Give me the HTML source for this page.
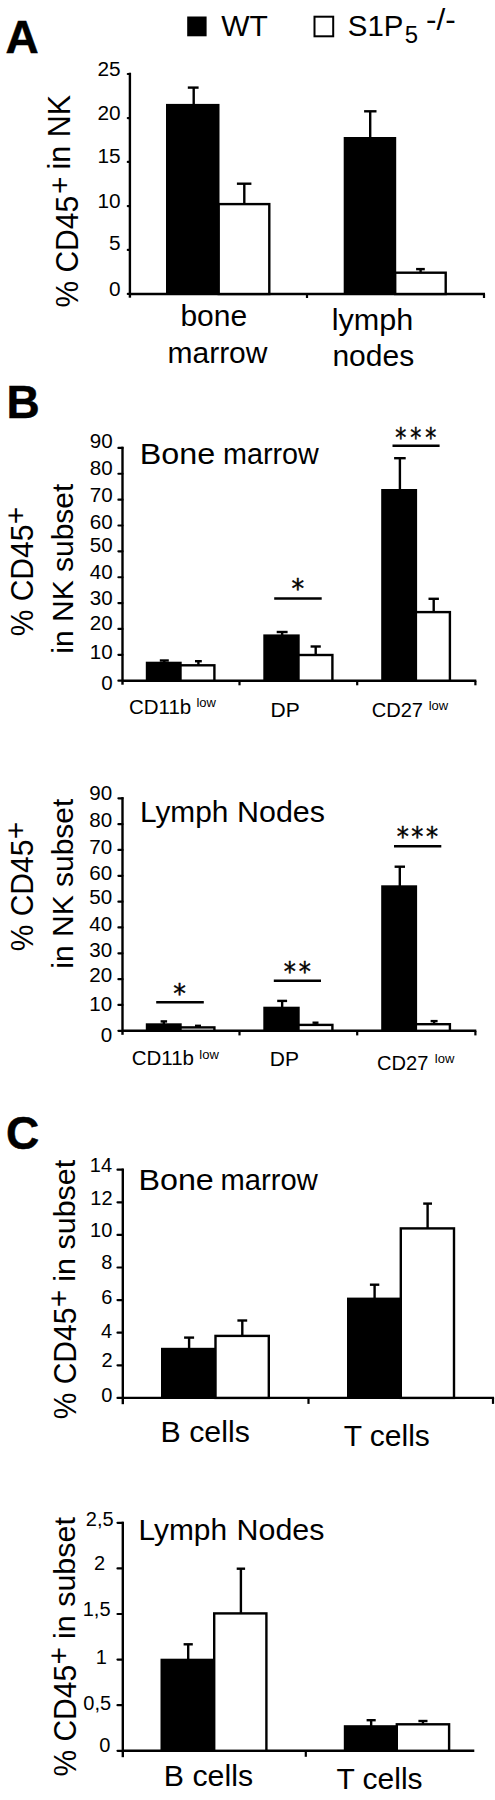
<!DOCTYPE html>
<html lang="en"><head><meta charset="utf-8"><title>Figure</title>
<style>
html,body{margin:0;padding:0;background:#fff;}
body{width:495px;height:1800px;overflow:hidden;font-family:"Liberation Sans",Arial,sans-serif;}
svg{display:block;}
</style></head><body>
<svg width="495" height="1800" viewBox="0 0 495 1800" font-family="Liberation Sans, Arial, sans-serif" fill="#000">
<rect width="495" height="1800" fill="#fff"/>
<text transform="translate(5.55 52.5)" font-size="46" font-weight="bold" stroke="#000" stroke-width="0.5" >A</text>
<text transform="translate(6.52 417.7)" font-size="46" font-weight="bold" stroke="#000" stroke-width="0.5" >B</text>
<text transform="translate(6.11 1148.8)" font-size="46" font-weight="bold" stroke="#000" stroke-width="0.5" >C</text>
<rect x="187.2" y="16.5" width="19.4" height="19.8" fill="#000"/>
<text transform="translate(221.27 36.2)" font-size="30" >WT</text>
<rect x="314.5" y="16.7" width="18.7" height="19.6" fill="#fff" stroke="#000" stroke-width="2"/>
<text transform="translate(347.86 36.4) scale(0.98 1)" font-size="30" >S1P</text>
<text transform="translate(404.84 43.3) scale(1.04 1)" font-size="23" >5</text>
<text transform="translate(426.1 30.2) scale(1.05 1)" font-size="30" >-/-</text>
<line x1="129.9" y1="72.7" x2="129.9" y2="297.7" stroke="#000" stroke-width="2.4"/>
<line x1="127.8" y1="74" x2="129.9" y2="74" stroke="#000" stroke-width="2.2" stroke-linecap="round"/>
<line x1="127.8" y1="118.1" x2="129.9" y2="118.1" stroke="#000" stroke-width="2.2" stroke-linecap="round"/>
<line x1="127.8" y1="161.9" x2="129.9" y2="161.9" stroke="#000" stroke-width="2.2" stroke-linecap="round"/>
<line x1="127.8" y1="206.1" x2="129.9" y2="206.1" stroke="#000" stroke-width="2.2" stroke-linecap="round"/>
<line x1="127.8" y1="249.9" x2="129.9" y2="249.9" stroke="#000" stroke-width="2.2" stroke-linecap="round"/>
<line x1="127.8" y1="293.9" x2="129.9" y2="293.9" stroke="#000" stroke-width="2.2" stroke-linecap="round"/>
<line x1="129.9" y1="294" x2="485" y2="294" stroke="#000" stroke-width="2.4"/>
<line x1="307" y1="294" x2="307" y2="298" stroke="#000" stroke-width="2.2"/>
<line x1="484" y1="294" x2="484" y2="298" stroke="#000" stroke-width="2.2"/>
<text transform="translate(97.54 76.25) scale(1.04 1)" font-size="20" >25</text>
<text transform="translate(97.48 120.25) scale(1.04 1)" font-size="20" >20</text>
<text transform="translate(97.54 163.15) scale(1.04 1)" font-size="20" >15</text>
<text transform="translate(97.48 207.65) scale(1.04 1)" font-size="20" >10</text>
<text transform="translate(109.11 249.95) scale(1.04 1)" font-size="20" >5</text>
<text transform="translate(109.04 296.25) scale(1.04 1)" font-size="20" >0</text>
<rect x="166" y="103.9" width="53.5" height="190.1" fill="#000"/>
<line x1="193.7" y1="87.6" x2="193.7" y2="105" stroke="#000" stroke-width="2.4"/>
<line x1="187.8" y1="87.6" x2="198.6" y2="87.6" stroke="#000" stroke-width="2.4"/>
<rect x="218.7" y="204.1" width="50.6" height="89.9" fill="#fff" stroke="#000" stroke-width="2.4"/>
<line x1="244.3" y1="183.7" x2="244.3" y2="204" stroke="#000" stroke-width="2.4"/>
<line x1="236.9" y1="183.7" x2="251.4" y2="183.7" stroke="#000" stroke-width="2.4"/>
<rect x="343.7" y="137" width="52.5" height="157" fill="#000"/>
<line x1="370.2" y1="111.3" x2="370.2" y2="138" stroke="#000" stroke-width="2.4"/>
<line x1="364.1" y1="111.3" x2="376.5" y2="111.3" stroke="#000" stroke-width="2.4"/>
<rect x="395.2" y="272.7" width="50.5" height="21.3" fill="#fff" stroke="#000" stroke-width="2.4"/>
<line x1="420.6" y1="269.1" x2="420.6" y2="272.5" stroke="#000" stroke-width="2.4"/>
<line x1="416.1" y1="269.1" x2="424.8" y2="269.1" stroke="#000" stroke-width="2.4"/>
<text transform="translate(77.6 307.57) rotate(-90) scale(1.0 1.07)" font-size="30">% CD45</text>
<text transform="translate(70.28 194.05) rotate(-90)" font-size="30">+</text>
<text transform="translate(70.2 169.44) rotate(-90) scale(1.015 1.07)" font-size="30">in NK</text>
<text transform="translate(180.43 326)" font-size="30" >bone</text>
<text transform="translate(167.46 362.5)" font-size="30" >marrow</text>
<text transform="translate(331.64 330) scale(1.019 1)" font-size="30" >lymph</text>
<text transform="translate(332.41 365.5)" font-size="30" >nodes</text>
<line x1="122.5" y1="446.7" x2="122.5" y2="684.7" stroke="#000" stroke-width="2.4"/>
<line x1="118.4" y1="680.7" x2="122.5" y2="680.7" stroke="#000" stroke-width="2.2" stroke-linecap="round"/>
<line x1="118.4" y1="654.83" x2="122.5" y2="654.83" stroke="#000" stroke-width="2.2" stroke-linecap="round"/>
<line x1="118.4" y1="628.97" x2="122.5" y2="628.97" stroke="#000" stroke-width="2.2" stroke-linecap="round"/>
<line x1="118.4" y1="603.1" x2="122.5" y2="603.1" stroke="#000" stroke-width="2.2" stroke-linecap="round"/>
<line x1="118.4" y1="577.23" x2="122.5" y2="577.23" stroke="#000" stroke-width="2.2" stroke-linecap="round"/>
<line x1="118.4" y1="551.37" x2="122.5" y2="551.37" stroke="#000" stroke-width="2.2" stroke-linecap="round"/>
<line x1="118.4" y1="525.5" x2="122.5" y2="525.5" stroke="#000" stroke-width="2.2" stroke-linecap="round"/>
<line x1="118.4" y1="499.63" x2="122.5" y2="499.63" stroke="#000" stroke-width="2.2" stroke-linecap="round"/>
<line x1="118.4" y1="473.77" x2="122.5" y2="473.77" stroke="#000" stroke-width="2.2" stroke-linecap="round"/>
<line x1="118.4" y1="447.9" x2="122.5" y2="447.9" stroke="#000" stroke-width="2.2" stroke-linecap="round"/>
<line x1="122.5" y1="680.7" x2="476.3" y2="680.7" stroke="#000" stroke-width="2.4"/>
<line x1="239.5" y1="680.7" x2="239.5" y2="685.3" stroke="#000" stroke-width="2.2"/>
<line x1="357.2" y1="680.7" x2="357.2" y2="685.3" stroke="#000" stroke-width="2.2"/>
<line x1="475.4" y1="680.7" x2="475.4" y2="685.3" stroke="#000" stroke-width="2.2"/>
<text transform="translate(89.69 448.25) scale(1.03 1)" font-size="20" >90</text>
<text transform="translate(89.69 475.05) scale(1.03 1)" font-size="20" >80</text>
<text transform="translate(89.69 501.85) scale(1.03 1)" font-size="20" >70</text>
<text transform="translate(89.69 528.55) scale(1.03 1)" font-size="20" >60</text>
<text transform="translate(89.69 552.35) scale(1.03 1)" font-size="20" >50</text>
<text transform="translate(89.69 578.75) scale(1.03 1)" font-size="20" >40</text>
<text transform="translate(89.69 605.05) scale(1.03 1)" font-size="20" >30</text>
<text transform="translate(89.69 630.35) scale(1.03 1)" font-size="20" >20</text>
<text transform="translate(89.69 659.05) scale(1.03 1)" font-size="20" >10</text>
<text transform="translate(101.15 689.85) scale(1.03 1)" font-size="20" >0</text>
<rect x="145.8" y="661.7" width="35.9" height="19" fill="#000"/>
<line x1="164.3" y1="660.5" x2="164.3" y2="662.7" stroke="#000" stroke-width="2.4"/>
<line x1="159.8" y1="660.5" x2="168.8" y2="660.5" stroke="#000" stroke-width="2.4"/>
<rect x="180.5" y="665.3" width="33.9" height="15.4" fill="#fff" stroke="#000" stroke-width="2.4"/>
<line x1="198.4" y1="661.2" x2="198.4" y2="665.1" stroke="#000" stroke-width="2.4"/>
<line x1="195" y1="661.2" x2="201.8" y2="661.2" stroke="#000" stroke-width="2.4"/>
<rect x="263.3" y="634.4" width="36.4" height="46.3" fill="#000"/>
<line x1="282.15" y1="632" x2="282.15" y2="635.4" stroke="#000" stroke-width="2.4"/>
<line x1="276.7" y1="632" x2="287.6" y2="632" stroke="#000" stroke-width="2.4"/>
<rect x="298.5" y="655" width="33.9" height="25.7" fill="#fff" stroke="#000" stroke-width="2.4"/>
<line x1="315.7" y1="646.5" x2="315.7" y2="654.8" stroke="#000" stroke-width="2.4"/>
<line x1="310.6" y1="646.5" x2="320.8" y2="646.5" stroke="#000" stroke-width="2.4"/>
<rect x="381.2" y="489" width="35.9" height="191.7" fill="#000"/>
<line x1="399.9" y1="458.2" x2="399.9" y2="490" stroke="#000" stroke-width="2.4"/>
<line x1="394.1" y1="458.2" x2="405.7" y2="458.2" stroke="#000" stroke-width="2.4"/>
<rect x="415.9" y="612.1" width="34" height="68.6" fill="#fff" stroke="#000" stroke-width="2.4"/>
<line x1="433.7" y1="598.8" x2="433.7" y2="611.9" stroke="#000" stroke-width="2.4"/>
<line x1="428.5" y1="598.8" x2="438.9" y2="598.8" stroke="#000" stroke-width="2.4"/>
<line x1="274.2" y1="598.5" x2="321.7" y2="598.5" stroke="#000" stroke-width="2.4"/>
<text transform="translate(297.8 598.3) scale(0.97 1)" font-size="26" text-anchor="middle" stroke="#000" stroke-width="0.45" font-family="DejaVu Sans, sans-serif">*</text>
<line x1="392.5" y1="445.8" x2="439.6" y2="445.8" stroke="#000" stroke-width="2.4"/>
<text transform="translate(400.85 446.5) scale(0.85 1)" font-size="26" text-anchor="middle" stroke="#000" stroke-width="0.45" font-family="DejaVu Sans, sans-serif">*</text>
<text transform="translate(415.8 446.5) scale(0.85 1)" font-size="26" text-anchor="middle" stroke="#000" stroke-width="0.45" font-family="DejaVu Sans, sans-serif">*</text>
<text transform="translate(430.75 446.5) scale(0.85 1)" font-size="26" text-anchor="middle" stroke="#000" stroke-width="0.45" font-family="DejaVu Sans, sans-serif">*</text>
<text transform="translate(139.75 463.9) scale(1.0774 1)" font-size="30" >Bone</text>
<text transform="translate(222.99 463.9) scale(0.9583 1)" font-size="30" >marrow</text>
<text transform="translate(33 636.27) rotate(-90) scale(1.0 1.07)" font-size="30">% CD45</text>
<text transform="translate(26.38 524.25) rotate(-90)" font-size="30">+</text>
<text transform="translate(72.7 653.71) rotate(-90)" font-size="30">in NK subset</text>
<text transform="translate(128.96 713.9)" font-size="20.5" >CD11b</text>
<text transform="translate(196.42 706.6)" font-size="13" >low</text>
<text transform="translate(270.48 716.8)" font-size="21" >DP</text>
<text transform="translate(371.68 717.2) scale(0.98 1)" font-size="20.5" >CD27</text>
<text transform="translate(428.72 709.8)" font-size="13" >low</text>
<line x1="122.5" y1="797.1" x2="122.5" y2="1034.8" stroke="#000" stroke-width="2.4"/>
<line x1="118.4" y1="1030.8" x2="122.5" y2="1030.8" stroke="#000" stroke-width="2.2" stroke-linecap="round"/>
<line x1="118.4" y1="1004.97" x2="122.5" y2="1004.97" stroke="#000" stroke-width="2.2" stroke-linecap="round"/>
<line x1="118.4" y1="979.13" x2="122.5" y2="979.13" stroke="#000" stroke-width="2.2" stroke-linecap="round"/>
<line x1="118.4" y1="953.3" x2="122.5" y2="953.3" stroke="#000" stroke-width="2.2" stroke-linecap="round"/>
<line x1="118.4" y1="927.47" x2="122.5" y2="927.47" stroke="#000" stroke-width="2.2" stroke-linecap="round"/>
<line x1="118.4" y1="901.63" x2="122.5" y2="901.63" stroke="#000" stroke-width="2.2" stroke-linecap="round"/>
<line x1="118.4" y1="875.8" x2="122.5" y2="875.8" stroke="#000" stroke-width="2.2" stroke-linecap="round"/>
<line x1="118.4" y1="849.97" x2="122.5" y2="849.97" stroke="#000" stroke-width="2.2" stroke-linecap="round"/>
<line x1="118.4" y1="824.13" x2="122.5" y2="824.13" stroke="#000" stroke-width="2.2" stroke-linecap="round"/>
<line x1="118.4" y1="798.3" x2="122.5" y2="798.3" stroke="#000" stroke-width="2.2" stroke-linecap="round"/>
<line x1="122.5" y1="1030.8" x2="476.3" y2="1030.8" stroke="#000" stroke-width="2.4"/>
<line x1="239.5" y1="1030.8" x2="239.5" y2="1035.4" stroke="#000" stroke-width="2.2"/>
<line x1="357.2" y1="1030.8" x2="357.2" y2="1035.4" stroke="#000" stroke-width="2.2"/>
<line x1="475.4" y1="1030.8" x2="475.4" y2="1035.4" stroke="#000" stroke-width="2.2"/>
<text transform="translate(89.19 800.05) scale(1.03 1)" font-size="20" >90</text>
<text transform="translate(89.19 826.85) scale(1.03 1)" font-size="20" >80</text>
<text transform="translate(89.19 853.65) scale(1.03 1)" font-size="20" >70</text>
<text transform="translate(89.19 880.35) scale(1.03 1)" font-size="20" >60</text>
<text transform="translate(89.19 904.15) scale(1.03 1)" font-size="20" >50</text>
<text transform="translate(89.19 930.55) scale(1.03 1)" font-size="20" >40</text>
<text transform="translate(89.19 956.85) scale(1.03 1)" font-size="20" >30</text>
<text transform="translate(89.19 982.15) scale(1.03 1)" font-size="20" >20</text>
<text transform="translate(89.19 1010.85) scale(1.03 1)" font-size="20" >10</text>
<text transform="translate(100.65 1041.65) scale(1.03 1)" font-size="20" >0</text>
<rect x="145.8" y="1023.3" width="35.9" height="7.5" fill="#000"/>
<line x1="163.85" y1="1021.4" x2="163.85" y2="1024.3" stroke="#000" stroke-width="2.4"/>
<line x1="160.6" y1="1021.4" x2="167.1" y2="1021.4" stroke="#000" stroke-width="2.4"/>
<rect x="180.5" y="1027.4" width="33.9" height="3.4" fill="#fff" stroke="#000" stroke-width="2.4"/>
<line x1="198" y1="1025.8" x2="198" y2="1027.2" stroke="#000" stroke-width="2.4"/>
<line x1="195" y1="1025.8" x2="201" y2="1025.8" stroke="#000" stroke-width="2.4"/>
<rect x="263.3" y="1006.7" width="36.4" height="24.1" fill="#000"/>
<line x1="282.15" y1="1000.9" x2="282.15" y2="1007.7" stroke="#000" stroke-width="2.4"/>
<line x1="277.2" y1="1000.9" x2="287.1" y2="1000.9" stroke="#000" stroke-width="2.4"/>
<rect x="298.5" y="1024.9" width="33.9" height="5.9" fill="#fff" stroke="#000" stroke-width="2.4"/>
<line x1="315.5" y1="1022.7" x2="315.5" y2="1024.7" stroke="#000" stroke-width="2.4"/>
<line x1="312.5" y1="1022.7" x2="318.5" y2="1022.7" stroke="#000" stroke-width="2.4"/>
<rect x="381.2" y="885.3" width="35.9" height="145.5" fill="#000"/>
<line x1="399.8" y1="866.7" x2="399.8" y2="886.3" stroke="#000" stroke-width="2.4"/>
<line x1="394.6" y1="866.7" x2="405" y2="866.7" stroke="#000" stroke-width="2.4"/>
<rect x="415.9" y="1024.2" width="34" height="6.6" fill="#fff" stroke="#000" stroke-width="2.4"/>
<line x1="434.1" y1="1021.1" x2="434.1" y2="1024" stroke="#000" stroke-width="2.4"/>
<line x1="430.6" y1="1021.1" x2="437.6" y2="1021.1" stroke="#000" stroke-width="2.4"/>
<line x1="156.2" y1="1002.3" x2="203.8" y2="1002.3" stroke="#000" stroke-width="2.4"/>
<text transform="translate(179.6 1002.7) scale(0.97 1)" font-size="26" text-anchor="middle" stroke="#000" stroke-width="0.45" font-family="DejaVu Sans, sans-serif">*</text>
<line x1="273.8" y1="980.7" x2="321" y2="980.7" stroke="#000" stroke-width="2.4"/>
<text transform="translate(289.82 980.5) scale(0.93 1)" font-size="26" text-anchor="middle" stroke="#000" stroke-width="0.45" font-family="DejaVu Sans, sans-serif">*</text>
<text transform="translate(304.78 980.5) scale(0.93 1)" font-size="26" text-anchor="middle" stroke="#000" stroke-width="0.45" font-family="DejaVu Sans, sans-serif">*</text>
<line x1="394" y1="846.3" x2="441.3" y2="846.3" stroke="#000" stroke-width="2.4"/>
<text transform="translate(402.8 846.3) scale(0.93 1)" font-size="26" text-anchor="middle" stroke="#000" stroke-width="0.45" font-family="DejaVu Sans, sans-serif">*</text>
<text transform="translate(417.4 846.3) scale(0.93 1)" font-size="26" text-anchor="middle" stroke="#000" stroke-width="0.45" font-family="DejaVu Sans, sans-serif">*</text>
<text transform="translate(432 846.3) scale(0.93 1)" font-size="26" text-anchor="middle" stroke="#000" stroke-width="0.45" font-family="DejaVu Sans, sans-serif">*</text>
<text transform="translate(139.95 822.3) scale(0.9938 1)" font-size="30" >Lymph</text>
<text transform="translate(237 822.1) scale(1.0147 1)" font-size="30" >Nodes</text>
<text transform="translate(33 951.27) rotate(-90) scale(1.0 1.07)" font-size="30">% CD45</text>
<text transform="translate(26.38 839.25) rotate(-90)" font-size="30">+</text>
<text transform="translate(72.7 968.71) rotate(-90)" font-size="30">in NK subset</text>
<text transform="translate(131.66 1065.2)" font-size="20.5" >CD11b</text>
<text transform="translate(199.32 1058.8)" font-size="13" >low</text>
<text transform="translate(269.78 1065.8)" font-size="21" >DP</text>
<text transform="translate(377.08 1070.2) scale(0.98 1)" font-size="20.5" >CD27</text>
<text transform="translate(434.82 1062.6)" font-size="13" >low</text>
<line x1="122.8" y1="1168.6" x2="122.8" y2="1404.2" stroke="#000" stroke-width="2.4"/>
<line x1="117.5" y1="1397.9" x2="122.8" y2="1397.9" stroke="#000" stroke-width="2.2" stroke-linecap="round"/>
<line x1="117.5" y1="1365.3" x2="122.8" y2="1365.3" stroke="#000" stroke-width="2.2" stroke-linecap="round"/>
<line x1="117.5" y1="1332.7" x2="122.8" y2="1332.7" stroke="#000" stroke-width="2.2" stroke-linecap="round"/>
<line x1="117.5" y1="1300.1" x2="122.8" y2="1300.1" stroke="#000" stroke-width="2.2" stroke-linecap="round"/>
<line x1="117.5" y1="1267.5" x2="122.8" y2="1267.5" stroke="#000" stroke-width="2.2" stroke-linecap="round"/>
<line x1="117.5" y1="1234.9" x2="122.8" y2="1234.9" stroke="#000" stroke-width="2.2" stroke-linecap="round"/>
<line x1="117.5" y1="1202.3" x2="122.8" y2="1202.3" stroke="#000" stroke-width="2.2" stroke-linecap="round"/>
<line x1="117.5" y1="1169.7" x2="122.8" y2="1169.7" stroke="#000" stroke-width="2.2" stroke-linecap="round"/>
<line x1="122.8" y1="1397.9" x2="494.1" y2="1397.9" stroke="#000" stroke-width="2.4"/>
<line x1="308.5" y1="1397.9" x2="308.5" y2="1403.9" stroke="#000" stroke-width="2.2"/>
<line x1="493" y1="1397.9" x2="493" y2="1403.9" stroke="#000" stroke-width="2.2"/>
<text transform="translate(89.84 1172.25)" font-size="20" >14</text>
<text transform="translate(90.26 1205.15)" font-size="20" >12</text>
<text transform="translate(90.04 1237.45)" font-size="20" >10</text>
<text transform="translate(101.25 1269.25)" font-size="20" >8</text>
<text transform="translate(101.26 1303.75)" font-size="20" >6</text>
<text transform="translate(100.96 1337.65)" font-size="20" >4</text>
<text transform="translate(101.38 1367.45)" font-size="20" >2</text>
<text transform="translate(101.36 1402.25)" font-size="20" >0</text>
<rect x="161" y="1347.8" width="54.6" height="50.1" fill="#000"/>
<line x1="189.1" y1="1337.6" x2="189.1" y2="1348.8" stroke="#000" stroke-width="2.4"/>
<line x1="184.1" y1="1337.6" x2="194.1" y2="1337.6" stroke="#000" stroke-width="2.4"/>
<rect x="215.5" y="1335.9" width="53.3" height="62" fill="#fff" stroke="#000" stroke-width="2.4"/>
<line x1="242.3" y1="1320.5" x2="242.3" y2="1335.7" stroke="#000" stroke-width="2.4"/>
<line x1="237.4" y1="1320.5" x2="247.2" y2="1320.5" stroke="#000" stroke-width="2.4"/>
<rect x="347" y="1297.6" width="54.3" height="100.3" fill="#000"/>
<line x1="374.6" y1="1284.7" x2="374.6" y2="1298.6" stroke="#000" stroke-width="2.4"/>
<line x1="369.9" y1="1284.7" x2="379.3" y2="1284.7" stroke="#000" stroke-width="2.4"/>
<rect x="400.8" y="1228.4" width="53.2" height="169.5" fill="#fff" stroke="#000" stroke-width="2.4"/>
<line x1="427.6" y1="1203.6" x2="427.6" y2="1228.2" stroke="#000" stroke-width="2.4"/>
<line x1="423.2" y1="1203.6" x2="432" y2="1203.6" stroke="#000" stroke-width="2.4"/>
<text transform="translate(138.45 1189.6) scale(1.0759 1)" font-size="30" >Bone</text>
<text transform="translate(220.56 1189.6) scale(0.9716 1)" font-size="30" >marrow</text>
<text transform="translate(75.8 1419.27) rotate(-90) scale(1.0 1.07)" font-size="30">% CD45</text>
<text transform="translate(68.63 1307.25) rotate(-90)" font-size="30">+</text>
<text transform="translate(75.2 1281.74) rotate(-90) scale(1.016 1.0)" font-size="30">in subset</text>
<text transform="translate(160.61 1442.2) scale(1.01 1)" font-size="30" >B cells</text>
<text transform="translate(343.73 1446)" font-size="30" >T cells</text>
<line x1="122.8" y1="1521.7" x2="122.8" y2="1757.2" stroke="#000" stroke-width="2.4"/>
<line x1="117.5" y1="1750.8" x2="122.8" y2="1750.8" stroke="#000" stroke-width="2.2" stroke-linecap="round"/>
<line x1="117.5" y1="1705.2" x2="122.8" y2="1705.2" stroke="#000" stroke-width="2.2" stroke-linecap="round"/>
<line x1="117.5" y1="1659.6" x2="122.8" y2="1659.6" stroke="#000" stroke-width="2.2" stroke-linecap="round"/>
<line x1="117.5" y1="1614" x2="122.8" y2="1614" stroke="#000" stroke-width="2.2" stroke-linecap="round"/>
<line x1="117.5" y1="1568.4" x2="122.8" y2="1568.4" stroke="#000" stroke-width="2.2" stroke-linecap="round"/>
<line x1="117.5" y1="1522.8" x2="122.8" y2="1522.8" stroke="#000" stroke-width="2.2" stroke-linecap="round"/>
<line x1="122.8" y1="1750.8" x2="474.3" y2="1750.8" stroke="#000" stroke-width="2.4"/>
<line x1="305.8" y1="1750.8" x2="305.8" y2="1756.8" stroke="#000" stroke-width="2.2"/>
<text transform="translate(85.84 1526.25)" font-size="20" >2,5</text>
<text transform="translate(93.98 1570.15)" font-size="20" >2</text>
<text transform="translate(82.74 1615.65)" font-size="20" >1,5</text>
<text transform="translate(95.65 1663.95)" font-size="20" >1</text>
<text transform="translate(83.34 1709.55)" font-size="20" >0,5</text>
<text transform="translate(99.16 1752.35)" font-size="20" >0</text>
<rect x="160.5" y="1658.7" width="53.8" height="92.1" fill="#000"/>
<line x1="188.2" y1="1644.3" x2="188.2" y2="1659.7" stroke="#000" stroke-width="2.4"/>
<line x1="183.6" y1="1644.3" x2="192.8" y2="1644.3" stroke="#000" stroke-width="2.4"/>
<rect x="214.2" y="1613.4" width="52.2" height="137.4" fill="#fff" stroke="#000" stroke-width="2.4"/>
<line x1="240.9" y1="1568.7" x2="240.9" y2="1613.2" stroke="#000" stroke-width="2.4"/>
<line x1="236.7" y1="1568.7" x2="245.1" y2="1568.7" stroke="#000" stroke-width="2.4"/>
<rect x="343.8" y="1725.2" width="53.9" height="25.6" fill="#000"/>
<line x1="371.15" y1="1720.2" x2="371.15" y2="1726.2" stroke="#000" stroke-width="2.4"/>
<line x1="366.6" y1="1720.2" x2="375.7" y2="1720.2" stroke="#000" stroke-width="2.4"/>
<rect x="396.8" y="1724.3" width="52.3" height="26.5" fill="#fff" stroke="#000" stroke-width="2.4"/>
<line x1="422.95" y1="1721" x2="422.95" y2="1724.1" stroke="#000" stroke-width="2.4"/>
<line x1="418.4" y1="1721" x2="427.5" y2="1721" stroke="#000" stroke-width="2.4"/>
<text transform="translate(138.45 1540) scale(0.9961 1)" font-size="30" >Lymph</text>
<text transform="translate(236.61 1540) scale(1.0123 1)" font-size="30" >Nodes</text>
<text transform="translate(75.8 1776.57) rotate(-90) scale(1.0 1.07)" font-size="30">% CD45</text>
<text transform="translate(68.63 1664.55) rotate(-90)" font-size="30">+</text>
<text transform="translate(75.2 1639.04) rotate(-90) scale(1.016 1.0)" font-size="30">in subset</text>
<text transform="translate(163.81 1786) scale(1.01 1)" font-size="30" >B cells</text>
<text transform="translate(336.43 1789.2)" font-size="30" >T cells</text>
</svg>
</body></html>
